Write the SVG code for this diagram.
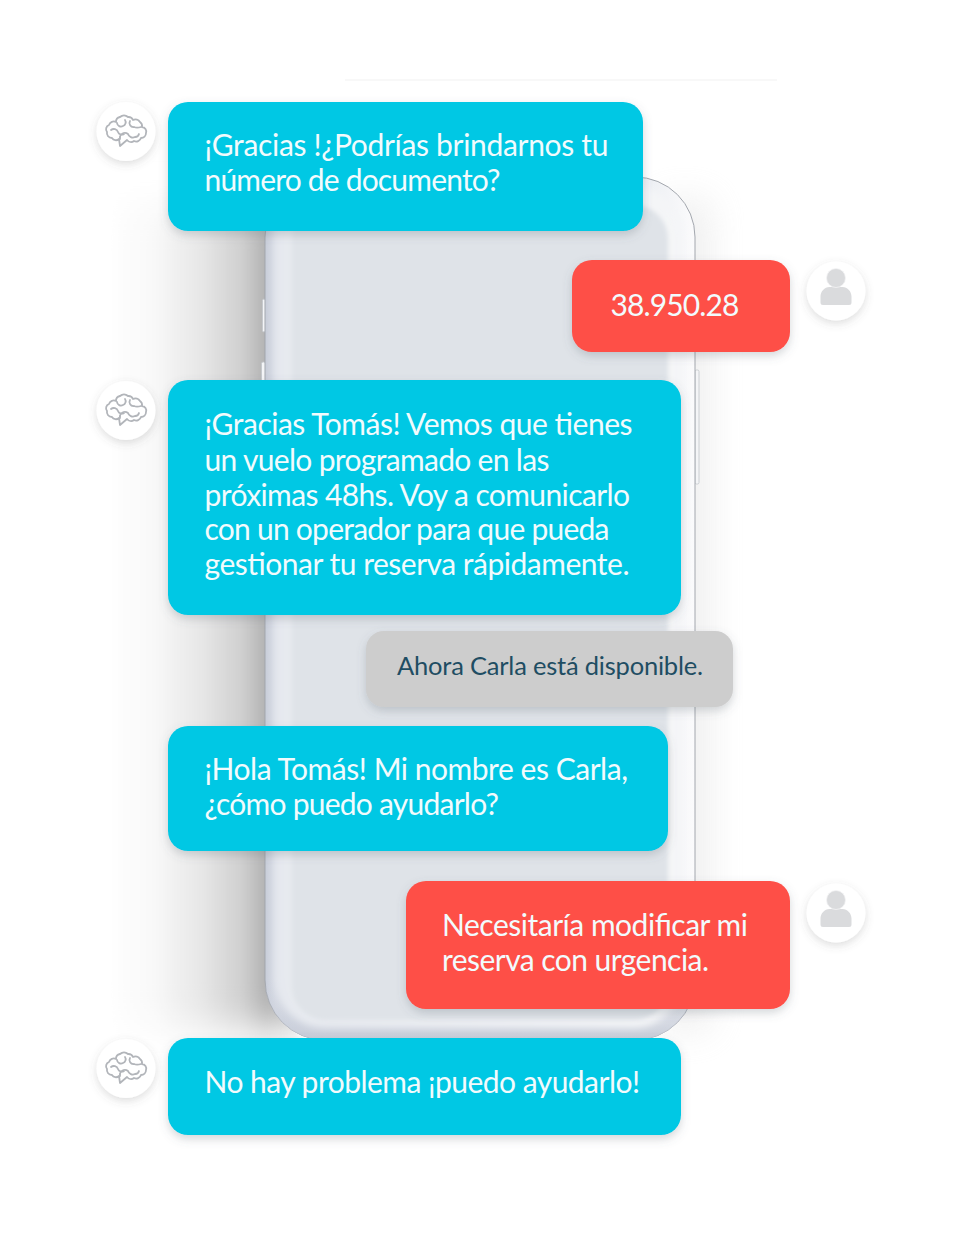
<svg xmlns="http://www.w3.org/2000/svg" width="960" height="1240" viewBox="0 0 960 1240">
<style>
.m{font-family:Lato,"Liberation Sans",sans-serif;font-size:30px;fill:#f2fbfd}
.s{font-family:Lato,"Liberation Sans",sans-serif;font-size:25.5px;fill:#1f4d63}
.c{fill:#00c8e4;filter:url(#bs)}
.r{fill:#fe4f46;filter:url(#bs)}
.g{fill:#cdcdcd;filter:url(#bs)}
.a{fill:#fff;filter:url(#as)}
.b{fill:none;stroke:#b2b5ba;stroke-width:1.8;stroke-linejoin:round;stroke-linecap:round}
.u{fill:#dadbdd}
.k{fill:#f4f5f7;stroke:#c2c5ca;stroke-width:.8}
</style>
<defs>
<filter id="bs" x="-10%" y="-20%" width="120%" height="145%"><feDropShadow dx="0" dy="4" stdDeviation="5" flood-color="#5a6570" flood-opacity=".26"/></filter>
<filter id="as" x="-40%" y="-40%" width="180%" height="190%"><feDropShadow dx="0" dy="3" stdDeviation="4" flood-color="#555" flood-opacity=".2"/></filter>
<filter id="ps" filterUnits="userSpaceOnUse" x="60" y="100" width="260" height="1000"><feGaussianBlur stdDeviation="3 18"/></filter>
<filter id="rs" filterUnits="userSpaceOnUse" x="640" y="150" width="200" height="950"><feGaussianBlur stdDeviation="18"/></filter>
<filter id="ib" x="-5%" y="-5%" width="110%" height="110%"><feGaussianBlur stdDeviation="3.500"/></filter>
<filter id="sb" x="-5%" y="-5%" width="110%" height="110%"><feGaussianBlur stdDeviation="2"/></filter>
<linearGradient id="shade" gradientUnits="userSpaceOnUse" x1="108" y1="0" x2="266" y2="0"><stop offset="0" stop-color="#fff"/><stop offset=".3" stop-color="#f8f8f8"/><stop offset=".6" stop-color="#e6e6e6"/><stop offset=".85" stop-color="#cfcfcf"/><stop offset="1" stop-color="#b2b2b2"/></linearGradient>
<linearGradient id="outer" gradientUnits="userSpaceOnUse" x1="265" y1="0" x2="695" y2="0"><stop offset="0" stop-color="#c8cdd9"/><stop offset=".025" stop-color="#d8dce5"/><stop offset=".9" stop-color="#eef0f4"/><stop offset="1" stop-color="#fbfbfc"/></linearGradient>
<linearGradient id="mid" gradientUnits="userSpaceOnUse" x1="275" y1="0" x2="690" y2="0"><stop offset="0" stop-color="#e6e9ef"/><stop offset="1" stop-color="#f5f6f8"/></linearGradient>
<linearGradient id="bot" x1="0" y1="0" x2="0" y2="1"><stop offset=".93" stop-color="#ccd1dc" stop-opacity="0"/><stop offset="1" stop-color="#c8cdd9"/></linearGradient>
<g id="brain"><path class="b" d="M-6 15L-7 8A4.500 4.500 0 0 1-14 7A5 5 0 0 1-19 1A4.500 4.500 0 0 1-17-6A5 5 0 0 1-10-9A5 5 0 0 1-6-14A6 6 0 0 1 2-14A5 5 0 0 1 7-11A5.500 5.500 0 0 1 14-9A5 5 0 0 1 16-4A4.500 4.500 0 0 1 20 2A5 5 0 0 1 15 7A5 5 0 0 1 8 10A5 5 0 0 1 1 9z"/><path class="b" d="M-15-1A4.500 4.500 0 0 1-8 1A4 4 0 0 0-2 3M-9-8A4 4 0 0 0-3-5A4 4 0 0 0-1-11M4-10A4 4 0 0 0 8-4C10-3 12-3 15-4M-6 8A5 5 0 0 1 2 3A5 5 0 0 0 9 6A4 4 0 0 0 13 3"/></g>
<g id="user"><path class="u" d="M-13 14a2.500 2.500 0 0 1-2.500-2.500v-6c0-5 4-9.500 9-9.500h13c5 0 9 4.500 9 9.500v6a2.500 2.500 0 0 1-2.500 2.500z"/><circle cx="0" cy="-13" r="9.500" class="u" stroke="#f4f4f5" stroke-width=".8"/></g>
</defs>
<rect width="960" height="1240" fill="#fff"/>
<g id="phone">
<rect x="345" y="79" width="432" height="2" fill="#f8f8f8"/>
<rect x="660" y="200" width="50" height="830" fill="#dcdcdc" opacity=".45" filter="url(#rs)"/>
<path d="M108 205H300V1010C300 1020 285 1028 240 1028H108z" fill="url(#shade)" filter="url(#ps)"/>
<rect class="k" x="262.500" y="299" width="3" height="33" rx="1.500"/>
<rect class="k" x="261.500" y="362" width="4" height="20" rx="1.500"/>
<rect class="k" x="695" y="370" width="4" height="114" rx="1.500"/>
<rect x="265" y="177" width="430" height="863" rx="60" fill="url(#outer)" stroke="#a3a7ae" stroke-width="1"/>
<rect x="265" y="177" width="430" height="863" rx="60" fill="url(#bot)"/>
<rect x="275" y="186" width="408" height="842" rx="50" fill="url(#mid)" filter="url(#ib)"/>
<rect x="292" y="205" width="376" height="815" rx="34" fill="#dfe3e8" filter="url(#sb)"/>
</g>
<g id="avatar-bot-1"><circle class="a" cx="126" cy="131.500" r="29.500"/><use href="#brain" x="126" y="131"/></g>
<g id="bubble-1"><rect class="c" x="168" y="102" width="475" height="129" rx="20"/>
<text class="m" x="204.500" y="155.500" textLength="404">¡Gracias !¿Podrías brindarnos tu</text><text class="m" x="204.500" y="190.500" textLength="296">número de documento?</text></g>
<g id="bubble-2"><rect class="r" x="572" y="260" width="218" height="92" rx="20"/><text class="m" x="610.500" y="315.500" textLength="129">38.950.28</text></g>
<g id="avatar-user-1"><circle class="a" cx="836" cy="291" r="29.500"/><use href="#user" x="836" y="291"/></g>
<g id="avatar-bot-2"><circle class="a" cx="126" cy="410.500" r="29.500"/><use href="#brain" x="126" y="410"/></g>
<g id="bubble-3"><rect class="c" x="168" y="380" width="513" height="235" rx="20"/>
<text class="m" x="204.500" y="434.500" textLength="428">¡Gracias Tomás! Vemos que tienes</text>
<text class="m" x="204.500" y="470.500" textLength="345">un vuelo programado en las</text>
<text class="m" x="204.500" y="505.500" textLength="425.500">próximas 48hs. Voy a comunicarlo</text>
<text class="m" x="204.500" y="539.500" textLength="405">con un operador para que pueda</text>
<text class="m" x="204.500" y="574.500" textLength="425">gestionar tu reserva rápidamente.</text></g>
<g id="notice"><rect class="g" x="366" y="631" width="367" height="76" rx="18"/><text class="s" x="397" y="675" textLength="306">Ahora Carla está disponible.</text></g>
<g id="bubble-4"><rect class="c" x="168" y="726" width="500" height="125" rx="20"/>
<text class="m" x="204.500" y="779.500" textLength="423.500">¡Hola Tomás! Mi nombre es Carla,</text><text class="m" x="204.500" y="814.500" textLength="294.500">¿cómo puedo ayudarlo?</text></g>
<g id="bubble-5"><rect class="r" x="406" y="881" width="384" height="128" rx="20"/>
<text class="m" x="442" y="935.500" textLength="306">Necesitaría modificar mi</text><text class="m" x="442" y="970.500" textLength="267">reserva con urgencia.</text></g>
<g id="avatar-user-2"><circle class="a" cx="836" cy="913" r="29.500"/><use href="#user" x="836" y="913"/></g>
<g id="avatar-bot-3"><circle class="a" cx="126" cy="1068.500" r="29.500"/><use href="#brain" x="126" y="1068"/></g>
<g id="bubble-6"><rect class="c" x="168" y="1038" width="513" height="97" rx="20"/><text class="m" x="204.500" y="1092.500" textLength="435.500">No hay problema ¡puedo ayudarlo!</text></g>
<g id="connectors"/>
</svg>
